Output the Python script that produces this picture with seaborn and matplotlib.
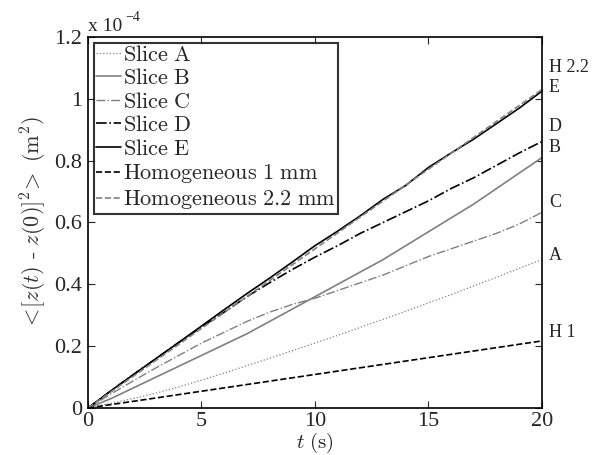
import numpy as np
import pandas as pd
import matplotlib
matplotlib.use("Agg")
import matplotlib.pyplot as plt
import seaborn as sns

# tiempo (s) y MSD en unidades de 1e-4 m^2
t = list(range(21))
slice_a = [0, 0.015, 0.031, 0.048, 0.068, 0.09, 0.113, 0.137, 0.161, 0.185, 0.21,
           0.235, 0.261, 0.287, 0.313, 0.34, 0.367, 0.395, 0.423, 0.452, 0.48]
slice_b = [0, 0.03, 0.065, 0.1, 0.135, 0.17, 0.205, 0.24, 0.28, 0.32, 0.36,
           0.4, 0.44, 0.48, 0.525, 0.57, 0.615, 0.66, 0.71, 0.76, 0.81]
slice_c = [0, 0.045, 0.088, 0.13, 0.17, 0.21, 0.245, 0.28, 0.31, 0.335, 0.355,
           0.38, 0.405, 0.43, 0.46, 0.49, 0.515, 0.54, 0.565, 0.595, 0.633]
slice_d = [0, 0.055, 0.108, 0.16, 0.212, 0.262, 0.31, 0.36, 0.405, 0.448, 0.488,
           0.525, 0.565, 0.6, 0.635, 0.67, 0.71, 0.745, 0.785, 0.825, 0.862]
slice_e = [0, 0.055, 0.108, 0.16, 0.212, 0.265, 0.318, 0.37, 0.42, 0.472, 0.525,
           0.572, 0.622, 0.675, 0.72, 0.778, 0.825, 0.87, 0.92, 0.97, 1.025]
t_hom = [0, 20]
hom_1 = [0, 0.217]
hom_22 = [0, 1.03]

names = ["Slice A", "Slice B", "Slice C", "Slice D", "Slice E",
         "Homogeneous 1 mm", "Homogeneous 2.2 mm"]
end_labels = ["H 2.2", "E", "D", "B", "C", "A", "H 1"]
end_label_y = [1.10, 1.037, 0.91, 0.843, 0.665, 0.493, 0.243]


def cm(txt):
    # texto en Computer Modern, como el LaTeX del original
    return r"$\mathrm{" + txt.replace(" ", r"\ ") + "}$"


def main():
    sns.set_style("ticks")
    plt.rcParams["font.family"] = ["Liberation Serif", "DejaVu Serif"]
    plt.rcParams["mathtext.fontset"] = "cm"
    plt.rcParams["xtick.direction"] = "in"
    plt.rcParams["ytick.direction"] = "in"

    fig = plt.figure(figsize=(6.01, 4.55), dpi=100)
    ax = fig.add_axes([0.1464, 0.1033, 0.7554, 0.8154])

    gray = "#808080"
    vals_list = [slice_a, slice_b, slice_c, slice_d, slice_e, hom_1, hom_22]
    xs_list = [t, t, t, t, t, t_hom, t_hom]
    colors = [gray, gray, gray, "black", "black", "black", gray]
    styles = [":", "-", "-.", "-.", "-", "--", "--"]
    widths = [0.9, 1.2, 1.0, 1.2, 1.2, 1.2, 1.2]
    for vals, xs, name, col, ls, lw in zip(vals_list, xs_list, names, colors, styles, widths):
        sns.lineplot(x=xs, y=vals, ax=ax, color=col, linestyle=ls, linewidth=lw, label=cm(name))

    ax.set_xlim(0, 20)
    ax.set_ylim(0, 1.2)
    ax.set_xticks([0, 5, 10, 15, 20])
    ax.set_yticks([0, 0.2, 0.4, 0.6, 0.8, 1.0, 1.2])
    ax.set_yticklabels(["0", "0.2", "0.4", "0.6", "0.8", "1", "1.2"])
    ax.tick_params(top=True, right=True, labelsize=16, length=5, width=0.8, pad=4)
    ax.tick_params(axis="x", pad=3)
    for sp in ax.spines.values():
        sp.set_linewidth(1.2)
        sp.set_color("black")

    ax.set_xlabel(r"$t\ \mathrm{(s)}$", fontsize=15, labelpad=0)
    ax.set_ylabel(r"$<\![z(t)\ \text{-}\ z(0)]^2\!>\ (\mathrm{m}^2)$", fontsize=16,
                  color="#333333", labelpad=4)
    ax.text(0, 1.005, "x 10", transform=ax.transAxes, fontsize=14,
            ha="left", va="bottom")
    ax.text(0.083, 1.035, "−4", transform=ax.transAxes, fontsize=10,
            ha="left", va="bottom")

    for lab, yv in zip(end_labels, end_label_y):
        ax.text(20.3, yv, lab, fontsize=13, ha="left", va="center", clip_on=False)

    leg = ax.legend(loc="upper left", fontsize=16, handlelength=1.1, handletextpad=0.1,
                    borderaxespad=0.25, borderpad=0.12, labelspacing=0.13,
                    fancybox=False, frameon=True)
    leg.get_frame().set_edgecolor("black")
    leg.get_frame().set_linewidth(1.5)

    fig.savefig("out.png", dpi=100)


if __name__ == "__main__":
    main()
